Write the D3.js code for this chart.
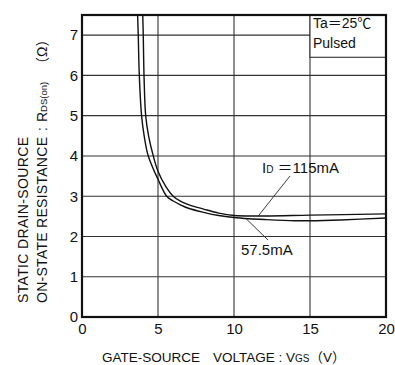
<!DOCTYPE html>
<html>
<head>
<meta charset="utf-8">
<script src="https://cdn.jsdelivr.net/npm/d3@7"></script>
<style>
  html, body { margin: 0; padding: 0; background: #fff; }
  svg { display: block; }
  text { font-family: "Liberation Sans", Arial, "Noto Sans CJK JP", sans-serif; fill: #111; }
</style>
</head>
<body>
<svg id="chart" width="395" height="365"></svg>
<script>
// ---- data ----
const xTicks = [0, 5, 10, 15, 20];
const yTicks = [0, 1, 2, 3, 4, 5, 6, 7];
const xDomain = [0, 20];
const yDomain = [0, 7.5];

// ID = 115 mA : [VGS (V), RDS(on) (ohm)]
const id115 = [
  [3.99, 7.6], [4.03, 7.0], [4.08, 6.0], [4.19, 5.0], [4.38, 4.5], [4.69, 4.0],
  [5.0, 3.62], [5.5, 3.25], [6.0, 3.0], [6.5, 2.87], [7.0, 2.79], [8.0, 2.68],
  [9.0, 2.58], [10.0, 2.52], [12.0, 2.51], [15.0, 2.53], [20.0, 2.56]
];
// ID = 57.5 mA
const id575 = [
  [3.65, 7.6], [3.70, 7.0], [3.77, 6.0], [3.92, 5.0], [4.09, 4.5], [4.36, 4.0],
  [5.0, 3.42], [5.57, 3.0], [6.0, 2.88], [6.5, 2.78], [7.0, 2.70], [8.0, 2.60],
  [9.0, 2.52], [10.0, 2.47], [11.0, 2.44], [12.0, 2.42], [14.0, 2.39],
  [15.0, 2.39], [17.0, 2.41], [20.0, 2.46]
];
const legendLines = ["Ta＝25℃", "Pulsed"];

// ---- layout ----
const svg = d3.select("#chart");
const m = { left: 82, top: 15, right: 386, bottom: 317 };
const x = d3.scaleLinear().domain(xDomain).range([m.left, m.right]);
const y = d3.scaleLinear().domain(yDomain).range([m.bottom, m.top]);

svg.append("clipPath").attr("id", "plotclip")
  .append("rect").attr("x", m.left).attr("y", m.top)
  .attr("width", m.right - m.left).attr("height", m.bottom - m.top);

// gridlines
const grid = svg.append("g").attr("stroke", "#333").attr("stroke-width", 1.1);
grid.selectAll("line.v").data(xTicks.slice(1, -1)).join("line")
  .attr("x1", d => x(d)).attr("x2", d => x(d))
  .attr("y1", m.top).attr("y2", m.bottom);
grid.selectAll("line.h").data(yTicks.slice(1)).join("line")
  .attr("x1", m.left).attr("x2", m.right)
  .attr("y1", d => y(d)).attr("y2", d => y(d));

// legend box (covers grid)
const lgX = x(15), lgY = m.top, lgBottom = y(6.45);
svg.append("rect").attr("x", lgX).attr("y", lgY)
  .attr("width", m.right - lgX).attr("height", lgBottom - lgY)
  .attr("fill", "#fff").attr("stroke", "#333").attr("stroke-width", 1.1);
svg.append("g").selectAll("text").data(legendLines).join("text")
  .attr("x", lgX + 3).attr("y", (d, i) => 28 + i * 19.5)
  .attr("font-size", 14).text(d => d);

// curves
const line = d3.line().x(d => x(d[0])).y(d => y(d[1])).curve(d3.curveCatmullRom.alpha(0.5));
const curves = svg.append("g").attr("clip-path", "url(#plotclip)");
[id115, id575].forEach(s => {
  curves.append("path").datum(s).attr("d", line)
    .attr("fill", "none").attr("stroke", "#111").attr("stroke-width", 1.4);
});

// frame
svg.append("rect").attr("x", m.left).attr("y", m.top)
  .attr("width", m.right - m.left).attr("height", m.bottom - m.top)
  .attr("fill", "none").attr("stroke", "#111").attr("stroke-width", 2.2);

// axes tick labels
const xAxis = d3.axisBottom(x).tickValues(xTicks).tickSize(0).tickPadding(6);
const gx = svg.append("g").attr("transform", `translate(0,${m.bottom})`).call(xAxis);
gx.select(".domain").remove();
gx.selectAll("text").attr("font-size", 15).attr("fill", "#111")
  .attr("font-family", "Liberation Sans, Arial, sans-serif");

const yAxis = d3.axisLeft(y).tickValues(yTicks).tickSize(0).tickPadding(4);
const gy = svg.append("g").attr("transform", `translate(${m.left},0)`).call(yAxis);
gy.select(".domain").remove();
gy.selectAll("text").attr("font-size", 15).attr("fill", "#111")
  .attr("font-family", "Liberation Sans, Arial, sans-serif");

// curve labels with leader lines
const lead = svg.append("g").attr("stroke", "#222").attr("stroke-width", 0.9);
lead.append("line").attr("x1", 290).attr("y1", 176).attr("x2", x(11.6)).attr("y2", y(2.51));
lead.append("line").attr("x1", 268).attr("y1", 240).attr("x2", x(10.8)).attr("y2", y(2.44));

const t1 = svg.append("text").attr("x", 262).attr("y", 173).attr("font-size", 15);
t1.append("tspan").text("I");
t1.append("tspan").attr("font-size", 10).text("D");
t1.append("tspan").text(" ＝115mA");
svg.append("text").attr("x", 241).attr("y", 255).attr("font-size", 15).text("57.5mA");

// x title
const xt = svg.append("text").attr("x", 102).attr("y", 362).attr("font-size", 13.5);
xt.append("tspan").text("GATE-SOURCE");
xt.append("tspan").attr("x", 213).text("VOLTAGE : V");
xt.append("tspan").attr("font-size", 10).text("GS");
xt.append("tspan").text("（V）");

// y title (two rotated lines)
svg.append("text").attr("transform", "translate(28,303) rotate(-90)")
  .attr("font-size", 14).attr("textLength", 166).text("STATIC  DRAIN-SOURCE");
const yt2g = svg.append("g").attr("transform", "translate(47,303) rotate(-90)");
yt2g.append("text").attr("font-size", 14).attr("textLength", 166).text("ON-STATE  RESISTANCE");
const yt2 = yt2g.append("text").attr("x", 172).attr("font-size", 14);
yt2.append("tspan").text(":");
yt2.append("tspan").attr("x", 181).text("R");
yt2.append("tspan").attr("font-size", 9.5).text("DS(on)");
yt2.append("tspan").attr("x", 232).text("（Ω）");
</script>
</body>
</html>
